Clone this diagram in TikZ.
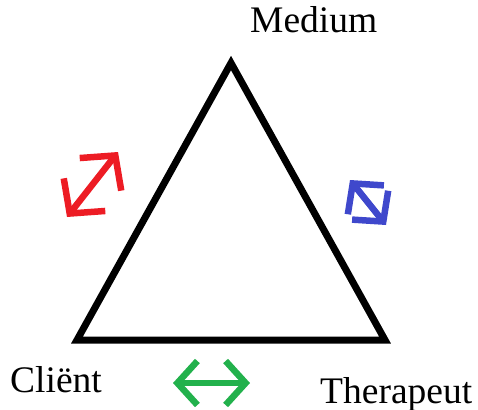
\documentclass[tikz,border=0pt]{standalone}
\usepackage{fontspec}
\setmainfont{Liberation Serif}
\usetikzlibrary{arrows.meta}

\definecolor{paintred}{RGB}{237,28,36}
\definecolor{paintblue}{RGB}{63,72,204}
\definecolor{paintgreen}{RGB}{34,177,76}

\begin{document}
\begin{tikzpicture}[x=1pt, y=-1pt,
        label/.style={inner sep=0pt, anchor=base west, font=\fontsize{37.5}{42}\selectfont},
        pijl/.style={line width=6.5pt, line cap=round,
            {Straight Barb[length=#1pt, width=2.2*#1pt, line width=6.5pt]}-{Straight Barb[length=#1pt, width=2.2*#1pt, line width=6.5pt]}}]
            \useasboundingbox (0,0) rectangle (478,409);

            \coordinate (top) at (231,63);
            \coordinate (links) at (77,340);
            \coordinate (rechts) at (385,340);
            \draw[black, line width=7pt, line join=miter] (top) -- (rechts) -- (links) -- cycle;

            \node[label] (medium) at (250,33) {Medium};
            \node[label] (client) at (10,392) {Cliënt};
            \node[label] (therapeut) at (320,403) {Therapeut};

            \coordinate (r1) at (67,217);
            \coordinate (r2) at (118,152);
            \coordinate (b1) at (350,180);
            \coordinate (b2) at (386,225);
            \coordinate (g1) at (173,383);
            \coordinate (g2) at (250,383);
            \draw[paintred, pijl=24] (r1) -- (r2);
            \draw[paintblue, pijl=21] (b1) -- (b2);
            \draw[paintgreen, pijl=20] (g1) -- (g2);
        \end{tikzpicture}
\end{document}
